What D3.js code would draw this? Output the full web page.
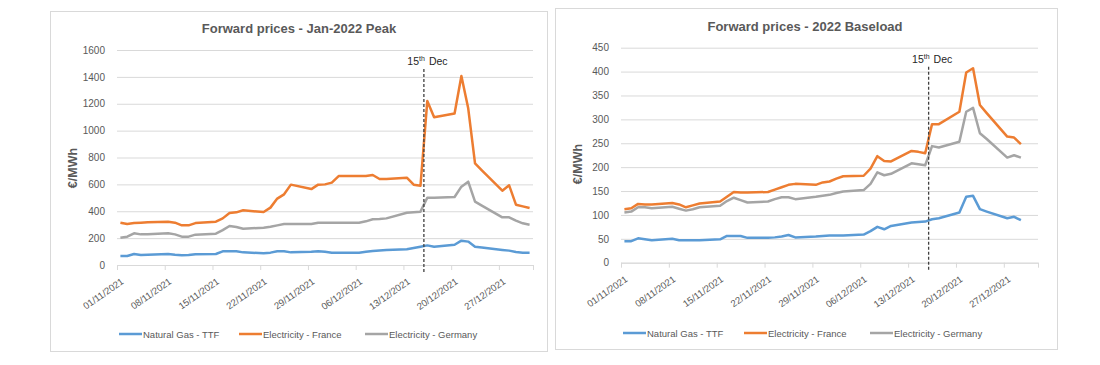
<!DOCTYPE html>
<html>
<head>
<meta charset="utf-8">
<script src="https://cdn.jsdelivr.net/npm/d3@7"></script>
<style>
body { margin: 0; background: #fff; }
text { font-family: "Liberation Sans", Arial, sans-serif; fill: #595959; }
</style>
</head>
<body>
<script>
// business days, Nov-Dec 2021
let dates = ["01/11/2021","02/11/2021","03/11/2021","04/11/2021","05/11/2021",
    "08/11/2021","09/11/2021","10/11/2021","11/11/2021","12/11/2021",
    "15/11/2021","16/11/2021","17/11/2021","18/11/2021","19/11/2021",
    "22/11/2021","23/11/2021","24/11/2021","25/11/2021","26/11/2021",
    "29/11/2021","30/11/2021","01/12/2021","02/12/2021","03/12/2021",
    "06/12/2021","07/12/2021","08/12/2021","09/12/2021","10/12/2021",
    "13/12/2021","14/12/2021","15/12/2021","16/12/2021","17/12/2021",
    "20/12/2021","21/12/2021","22/12/2021","23/12/2021","24/12/2021",
    "27/12/2021","28/12/2021","29/12/2021","30/12/2021","31/12/2021"];

// Jan-2022 Peak
let peakGas = [67,67,82,74,76, 82,76,72,74,80, 82,102,102,102,94, 87,92,102,102,94,
    98,102,98,92,92, 92,98,104,108,112, 117,126,136,146,136, 151,181,174,136,130,
    112,107,97,92,92];
let peakFrance = [315,305,312,315,318, 322,315,295,295,312, 322,347,387,392,407,
    394,427,494,526,598, 565,598,600,613,662, 662,662,670,640,640,
    650,598,590,1220,1099, 1128,1406,1166,756,705, 553,593,449,436,424];
let peakGermany = [203,211,236,228,228, 236,228,211,211,226, 233,260,290,283,270,
    278,285,295,305,305, 305,315,315,315,315, 315,325,340,342,347,
    389,393,397,501,501, 506,583,620,471,442, 355,355,330,310,300];

// 2022 Baseload (ends 29/12)
let baseGas = [45,45,51,49,47, 50,47,47,47,47, 49,56,56,56,52, 52,53,55,58,53,
    55,56,57,57,57, 59,66,75,70,77, 84,85,86,91,93, 105,138,140,112,107, 93,96,89];
let baseFrance = [112,114,123,122,122, 125,122,116,120,124, 128,138,148,147,147,
    148,153,158,163,165, 163,168,170,176,181, 182,197,223,213,212,
    234,232,229,290,290, 316,398,407,330,313, 264,262,248];
let baseGermany = [105,107,116,116,114, 117,113,109,112,116, 119,129,136,131,126,
    128,133,137,137,133, 138,140,142,146,149, 152,165,189,183,186,
    208,206,204,244,241, 253,316,324,271,259, 220,225,220];

let tickLabels = ["01/11/2021","08/11/2021","15/11/2021","22/11/2021","29/11/2021",
    "06/12/2021","13/12/2021","20/12/2021","27/12/2021"];
let peakTicks = [0,200,400,600,800,1000,1200,1400,1600];
let baseTicks = [0,50,100,150,200,250,300,350,400,450];
let seriesNames = ["Natural Gas - TTF", "Electricity - France", "Electricity - Germany"];
let seriesColors = ["#5B9BD5", "#ED7D31", "#A5A5A5"];
let markerDate = "15/12/2021";
let axisStart = "01/11/2021", axisEnd = "01/01/2022";

let parse = d3.utcParse("%d/%m/%Y");
let halfDay = 12*3600*1000;

let svg = d3.select('body')
    .append('svg')
        .attr("width", 1100)
        .attr("height", 365);

function DrawChart(c) {
    let g = svg.append('g');
    g.append('rect')
        .attr('x', c.box[0]).attr('y', c.box[1])
        .attr('width', c.box[2]).attr('height', c.box[3])
        .attr('fill', '#fff').attr('stroke', '#d9d9d9');

    let x = d3.scaleUtc().domain([parse(axisStart), parse(axisEnd)]).range([c.left, c.right]);
    let y = d3.scaleLinear().domain([0, c.ticks[c.ticks.length-1]]).range([c.bottom, c.top]);

    // gridlines + y labels
    let ya = g.append('g').attr('transform', `translate(${c.left},0)`)
        .call(d3.axisLeft(y).tickValues(c.ticks).tickSize(-(c.right-c.left)).tickPadding(12).tickFormat(d3.format('d')));
    ya.select('.domain').remove();
    ya.selectAll('line').attr('stroke', '#d9d9d9');
    ya.selectAll('text').style('font-size', '10px').attr('fill', '#595959');

    // x axis with daily minor ticks
    let xg = g.append('g').attr('transform', `translate(0,${c.bottom})`);
    xg.call(d3.axisBottom(x).ticks(d3.utcDay.every(1)).tickSize(3).tickSizeOuter(0).tickFormat(''));
    xg.call(d3.axisBottom(x).tickValues(tickLabels.map(parse).concat([parse(axisEnd)])).tickSize(5).tickSizeOuter(0).tickFormat(''));
    xg.selectAll('path, line').attr('stroke', '#d9d9d9');

    g.selectAll('.xlab').data(tickLabels).enter().append('text')
        .attr('class', 'xlab')
        .attr('text-anchor', 'end')
        .attr('transform', d => `translate(${x(+parse(d)+halfDay)+4},${c.bottom+18}) rotate(-35)`)
        .style('font-size', '9.5px')
        .text(d => d);

    // series
    let line = d3.line()
        .x((v, i) => x(+parse(dates[i]) + halfDay))
        .y(v => y(v));
    c.series.forEach((s, k) => {
        g.append('path')
            .attr('d', line(s))
            .attr('fill', 'none')
            .attr('stroke', seriesColors[k])
            .attr('stroke-width', 2.5)
            .attr('stroke-linejoin', 'round');
    });

    // 15th Dec marker
    let mx = x(d3.utcDay.offset(parse(markerDate), 1));
    g.append('line')
        .attr('x1', mx).attr('x2', mx)
        .attr('y1', c.top+19).attr('y2', c.bottom+8)
        .attr('stroke', '#404040').attr('stroke-width', 1.3)
        .attr('stroke-dasharray', '3,2');
    let mt = g.append('text')
        .attr('x', mx+1).attr('y', c.top+15)
        .attr('text-anchor', 'end')
        .style('font-size', '10.5px').style('fill', '#262626');
    mt.append('tspan').text('15');
    mt.append('tspan').attr('dy', -4).style('font-size', '7px').text('th');
    g.append('text')
        .attr('x', mx+5).attr('y', c.top+15)
        .style('font-size', '10.5px').style('fill', '#262626')
        .text('Dec');

    // title and y title
    g.append('text')
        .attr('x', c.titleX).attr('y', c.titleY)
        .attr('text-anchor', 'middle')
        .style('font-size', '13px').style('font-weight', 'bold')
        .text(c.title);
    g.append('text')
        .attr('transform', `translate(${c.yTitleX},${c.yTitleY}) rotate(-90)`)
        .attr('text-anchor', 'middle')
        .style('font-size', '12.5px').style('font-weight', 'bold')
        .text('€/MWh');

    // legend
    c.legendX.forEach((lx, k) => {
        g.append('line')
            .attr('x1', lx).attr('x2', lx+23)
            .attr('y1', c.legendY).attr('y2', c.legendY)
            .attr('stroke', seriesColors[k]).attr('stroke-width', 2.5);
        g.append('text')
            .attr('x', lx+24).attr('y', c.legendY+3.5)
            .style('font-size', '9.5px')
            .text(seriesNames[k]);
    });
}

DrawChart({
    box: [50.5, 11.5, 497, 340],
    left: 117, right: 533, top: 50, bottom: 265,
    ticks: peakTicks,
    series: [peakGas, peakFrance, peakGermany],
    title: "Forward prices - Jan-2022 Peak", titleX: 299, titleY: 33,
    yTitleX: 77, yTitleY: 168,
    legendX: [119, 239, 365], legendY: 334
});
DrawChart({
    box: [555.5, 8.5, 502, 341],
    left: 621, right: 1038, top: 47.7, bottom: 262.7,
    ticks: baseTicks,
    series: [baseGas, baseFrance, baseGermany],
    title: "Forward prices - 2022  Baseload", titleX: 805, titleY: 31,
    yTitleX: 582, yTitleY: 164,
    legendX: [623, 744, 870], legendY: 333
});
</script>
</body>
</html>
